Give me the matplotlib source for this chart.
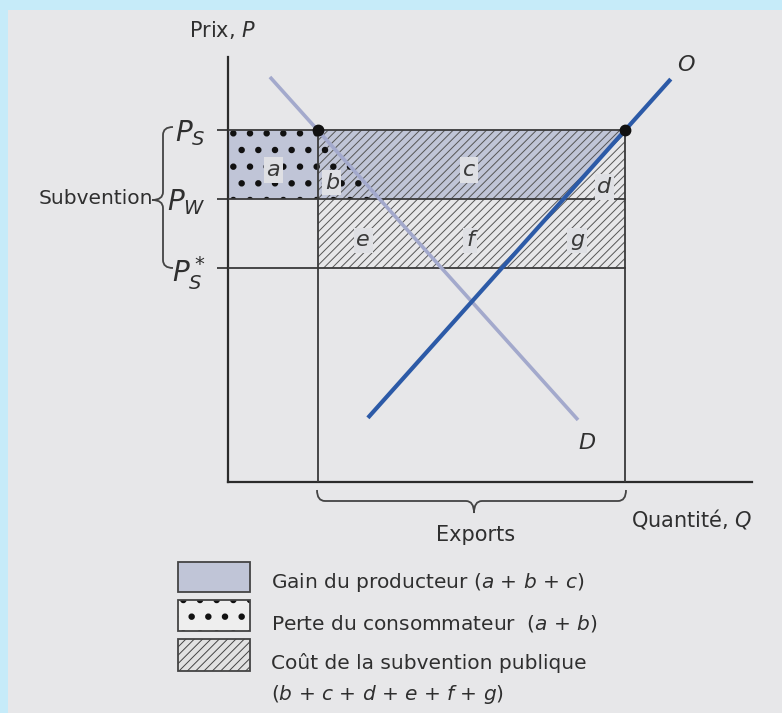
import numpy as np
import matplotlib
matplotlib.use('Agg')
import matplotlib.pyplot as plt
from matplotlib.patches import Polygon, Rectangle, PathPatch
from matplotlib.path import Path

plt.rcParams['font.family'] = ['DejaVu Sans']
plt.rcParams['mathtext.fontset'] = 'dejavusans'
plt.rcParams['hatch.linewidth'] = 0.7

# price levels (P_S*, P_W, P_S)
price_labels = ['$P_S^*$', '$P_W$', '$P_S$']
price_values = [5.04, 6.66, 8.28]

# demand D and supply O, two ends of each line
demand_q = [0.80, 6.68]
demand_p = [9.53, 1.46]
supply_q = [2.67, 8.45]
supply_p = [1.51, 9.48]

# letters of the areas and where they sit
area_names = ['a', 'b', 'c', 'd', 'e', 'f', 'g']
area_q = [0.86, 1.98, 4.60, 7.18, 2.58, 4.62, 6.66]
area_p = [7.34, 7.04, 7.34, 6.94, 5.69, 5.69, 5.69]

legend_labels = ['Gain du producteur ($a$ + $b$ + $c$)',
                 'Perte du consommateur  ($a$ + $b$)',
                 'Coût de la subvention publique',
                 '($b$ + $c$ + $d$ + $e$ + $f$ + $g$)']

BLUE_BG = '#c6ebf9'
PAGE = '#e7e7e9'
GAIN = '#c0c5d7'
HATCH = '#555555'
LINE = '#3a3a3a'
TEXT = '#2f2f2f'
SUPPLY = '#2c5aa7'
DEMAND = '#a3a9cc'

p_s_star, p_w, p_s = price_values
# where the lines cross the price levels
qd_s = np.interp(p_s, demand_p[::-1], demand_q[::-1])
qd_w = np.interp(p_w, demand_p[::-1], demand_q[::-1])
qs_s = np.interp(p_s, supply_p, supply_q)
qs_w = np.interp(p_w, supply_p, supply_q)

W, H = 782, 713
fig = plt.figure(figsize=(W / 100, H / 100), dpi=100, facecolor=BLUE_BG)

# overlay in pixel units for the page, braces and legend
ov = fig.add_axes([0, 0, 1, 1], zorder=0)
ov.set_xlim(0, W)
ov.set_ylim(H, 0)
ov.axis('off')
ov.add_patch(Rectangle((8, 10), W - 8, H - 10, facecolor=PAGE, edgecolor='none', zorder=0))

ax = fig.add_axes([228 / W, (H - 482) / H, 524 / W, 425 / H], zorder=1)
ax.set_facecolor('none')
ax.set_xlim(0, 10)
ax.set_ylim(0, 10)


def dotted(patch):
    # bigger dots for the consumer loss pattern
    try:
        patch.set_hatch_linewidth(2.2)
    except AttributeError:
        pass
    return patch


def hatch_patch(pts, hatch, color=HATCH):
    p = Polygon(pts, closed=True, facecolor='none', edgecolor=color,
                linewidth=0, hatch=hatch, zorder=2)
    if hatch == '.':
        dotted(p)
    ax.add_patch(p)


# areas
area_a = [(0, p_w), (qd_s, p_w), (qd_s, p_s), (0, p_s)]
area_b = [(qd_s, p_s), (qd_s, p_w), (qd_w, p_w)]
area_c = [(qd_s, p_s), (qs_s, p_s), (qs_w, p_w), (qd_w, p_w)]
area_d = [(qs_w, p_w), (qs_s, p_w), (qs_s, p_s)]
area_efg = [(qd_s, p_s_star), (qs_s, p_s_star), (qs_s, p_w), (qd_s, p_w)]

for pts in [area_a, area_b, area_c]:
    ax.add_patch(Polygon(pts, closed=True, facecolor=GAIN, edgecolor='none', zorder=1))
for pts in [area_b, area_c, area_d, area_efg]:
    hatch_patch(pts, '////')
for pts in [area_a, area_b]:
    hatch_patch(pts, '.', color='#111111')

# price lines and vertical lines
for p in price_values:
    ax.plot([0, qs_s], [p, p], color=LINE, lw=1.3, zorder=3)
for q in [qd_s, qs_s]:
    ax.plot([q, q], [0, p_s], color=LINE, lw=1.3, zorder=3)

# demand and supply
ax.plot(demand_q, demand_p, color=DEMAND, lw=2.6, solid_capstyle='butt', zorder=4)
ax.plot(supply_q, supply_p, color=SUPPLY, lw=3.0, solid_capstyle='butt', zorder=5)
ax.plot([qd_s, qs_s], [p_s, p_s], 'o', color='#111111', ms=7.5, zorder=6)

ax.text(supply_q[1] + 0.29, supply_p[1] + 0.33, 'O', fontsize=16, style='italic',
        color=TEXT, ha='center', va='center')
ax.text(demand_q[1] + 0.17, demand_p[1] - 0.54, 'D', fontsize=16, style='italic',
        color=TEXT, ha='center', va='center')

for name, q, p in zip(area_names, area_q, area_p):
    ax.text(q, p, name, fontsize=16, style='italic', color='#3a3a3a', ha='center',
            va='center', zorder=7,
            bbox=dict(boxstyle='square,pad=0.12', fc='#dfe0e4', ec='none'))

# axes
for side in ['top', 'right']:
    ax.spines[side].set_visible(False)
for side in ['left', 'bottom']:
    ax.spines[side].set_linewidth(1.6)
    ax.spines[side].set_color('#2b2b2b')
ax.set_xticks([])
ax.set_yticks(price_values)
ax.set_yticklabels(price_labels, fontsize=20, color=TEXT)
ax.tick_params(axis='y', length=8, width=1.3, color=LINE, pad=8)

ax.set_ylabel('Prix, $P$', fontsize=15, color=TEXT, rotation=0, ha='center', va='center')
ax.yaxis.set_label_coords(-0.011, 1.064)
ax.set_xlabel('Quantité, $Q$', fontsize=15, color=TEXT, ha='center', va='center')
ax.xaxis.set_label_coords(0.886, -0.087)


def brace_path(points):
    # start point, then line ends or quadratic curves (ctrl, end)
    verts = [points[0]]
    codes = [Path.MOVETO]
    for kind, pts in points[1:]:
        if kind == 'L':
            verts.append(pts)
            codes.append(Path.LINETO)
        else:
            verts.extend(pts)
            codes.extend([Path.CURVE3, Path.CURVE3])
    return PathPatch(Path(verts, codes), facecolor='none', edgecolor='#444444', lw=1.3)


# Subvention brace, tip on the left
xr, xm, xl, y0, y1, ym, r = 173, 163, 152, 127, 268, 200, 8
ov.add_patch(brace_path([(xr, y0),
                         ('C', [(xm, y0), (xm, y0 + r)]),
                         ('L', (xm, ym - r)),
                         ('C', [(xm, ym), (xl, ym)]),
                         ('C', [(xm, ym), (xm, ym + r)]),
                         ('L', (xm, y1 - r)),
                         ('C', [(xm, y1), (xr, y1)])]))
ov.text(153, 199, 'Subvention', fontsize=14.5, color=TEXT, ha='right', va='center')

# Exports brace, tip down
x0, x1, xt, yt, ys, yb, r = 317, 626, 474, 490, 501, 513, 8
ov.add_patch(brace_path([(x0, yt),
                         ('C', [(x0, ys), (x0 + r, ys)]),
                         ('L', (xt - r, ys)),
                         ('C', [(xt, ys), (xt, yb)]),
                         ('C', [(xt, ys), (xt + r, ys)]),
                         ('L', (x1 - r, ys)),
                         ('C', [(x1, ys), (x1, yt)])]))
ov.text(476, 535, 'Exports', fontsize=15, color=TEXT, ha='center', va='center')

# legend
ov.add_patch(Rectangle((178, 562), 72, 30, facecolor=GAIN, edgecolor='#444444', lw=1.3))
ov.add_patch(Rectangle((178, 600), 72, 31, facecolor='#eeeeee', edgecolor='none'))
ov.add_patch(dotted(Rectangle((178, 600), 72, 31, facecolor='none', edgecolor='#111111',
                              lw=0, hatch='.')))
ov.add_patch(Rectangle((178, 600), 72, 31, facecolor='none', edgecolor='#444444', lw=1.3))
ov.add_patch(Rectangle((178, 639), 72, 32, facecolor='#e2e2e2', edgecolor='#444444', lw=1.3,
                       hatch='////'))
for label, y in zip(legend_labels, [588, 629, 669, 700]):
    ov.text(271, y, label, fontsize=14.5, color=TEXT, ha='left', va='baseline')

fig.savefig('out.png', dpi=100, facecolor=fig.get_facecolor())
